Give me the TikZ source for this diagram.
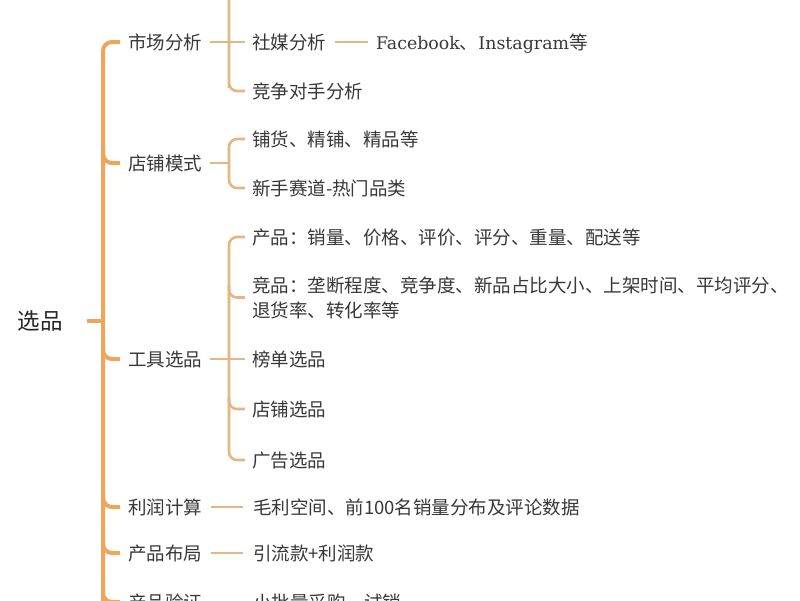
\documentclass[tikz,border=0pt]{standalone}
\usepackage{fontspec}
\setmainfont{Noto Sans CJK SC}
\newfontfamily\serifx{DejaVu Serif}
\definecolor{trunkc}{HTML}{F0A65A}
\definecolor{subc}{HTML}{E2B783}
\definecolor{txt}{HTML}{383838}
\begin{document}
\begin{tikzpicture}[x=1pt,y=-1pt,
  every node/.style={inner sep=0pt,outer sep=0pt,text=txt,anchor=west,
    font=\fontsize{18.5}{25}\selectfont,text height=15.3pt,text depth=1.3pt},
  rootn/.style={font=\fontsize{22.5}{26}\selectfont,text=black!85,anchor=center,text height=18.6pt,text depth=1.6pt},
  trunk/.style={draw=trunkc,line width=4pt,rounded corners=9pt},
  sub/.style={draw=subc,line width=2.6pt,rounded corners=8pt},
  multi/.style={align=left,text height=,text depth=}]
\useasboundingbox (0,0) rectangle (800,600);
\fill[white] (0,0) rectangle (800,600);
\clip (0,0) rectangle (800,600);
% root
\node[rootn] (root) at (40,321) {选品};
% level 1
\node (sc) at (128,42) {市场分析};
\node (dp) at (128,163) {店铺模式};
\node (gj) at (128,359) {工具选品};
\node (lr) at (128,507) {利润计算};
\node (bj) at (128,553) {产品布局};
\node (yz) at (128,602) {产品验证};
% trunk
\draw[trunk] ([xshift=24pt]root.east) -- (103,321);
\draw[trunk] ([xshift=-8pt]sc.west) -| (103,650);
\foreach \n in {dp,gj,lr,bj,yz}{
  \draw[trunk] (\n.west -| 103,0) ++(0,-16) |- ([xshift=-8pt]\n.west);
}
% 市场分析 children
\coordinate (hid) at (245,-10);
\node (sm) at (252,42) {社媒分析};
\node (fb) at (376,42) {{\serifx\fontsize{17.4}{25}\selectfont Facebook}、{\serifx\fontsize{17.4}{25}\selectfont Instagram}等};
\node (jz) at (252,91) {竞争对手分析};
\draw[sub] ([xshift=8pt]sc.east) -- ([xshift=-7pt]sm.west);
\draw[sub] (hid) -| (229,80) |- ([xshift=-7pt]jz.west);
\draw[sub] ([xshift=9pt]sm.east) -- ([xshift=-8pt]fb.west);
% 店铺模式 children
\node (ph) at (252,139) {铺货、精铺、精品等};
\node (xs) at (252,188) {新手赛道-热门品类};
\draw[sub] ([xshift=8pt]dp.east) -- (229,163);
\draw[sub] ([xshift=-7pt]ph.west) -| (229,163) |- ([xshift=-7pt]xs.west);
% 工具选品 children
\node (cp) at (252,237) {产品：销量、价格、评价、评分、重量、配送等};
\node[multi] (jp) at (252,297.5) {竞品：垄断程度、竞争度、新品占比大小、上架时间、平均评分、\\退货率、转化率等};
\node (bd) at (252,359) {榜单选品};
\node (dx) at (252,409) {店铺选品};
\node (gg) at (252,460) {广告选品};
\draw[sub] ([xshift=8pt]gj.east) -- ([xshift=-7pt]bd.west);
\draw[sub] ([xshift=-7pt]cp.west) -| (229,350) |- ([xshift=-7pt]gg.west);
\draw[sub] (229,285) |- ([xshift=-7pt]jp.west);
\draw[sub] (229,397) |- ([xshift=-7pt]dx.west);
% other leaves
\node (lrc) at (253,507) {毛利空间、前100名销量分布及评论数据};
\node (bjc) at (253,553) {引流款+利润款};
\node (yzc) at (253,602) {小批量采购、试销};
\draw[sub] ([xshift=9pt]lr.east) -- ([xshift=-10pt]lrc.west);
\draw[sub] ([xshift=9pt]bj.east) -- ([xshift=-10pt]bjc.west);
\draw[sub] ([xshift=9pt]yz.east) -- ([xshift=-10pt]yzc.west);
\end{tikzpicture}
\end{document}
